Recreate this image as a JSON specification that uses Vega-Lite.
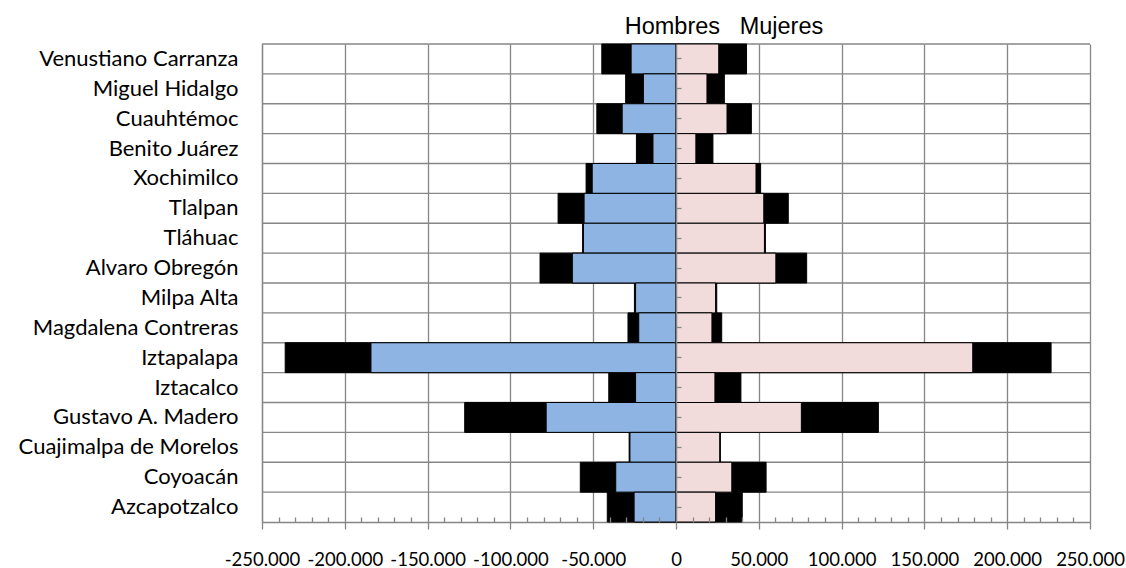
{
  "$schema": "https://vega.github.io/schema/vega-lite/v6.json",
  "width": 828,
  "height": 478,
  "autosize": {"type": "none"},
  "padding": {"left": 262, "top": 44, "right": 36, "bottom": 46},
  "background": "white",
  "title": {
    "text": "Hombres\u00a0\u00a0\u00a0Mujeres",
    "font": "Liberation Sans",
    "fontSize": 23.5,
    "fontWeight": "normal",
    "color": "#000000",
    "anchor": "middle",
    "dx": 48,
    "baseline": "alphabetic",
    "offset": -14
  },
  "config": {
    "view": {"stroke": null},
    "axis": {"title": null}
  },
  "data": {
    "values": [
      {"delegacion": "Venustiano Carranza", "sexo": "Hombres", "serie": "exterior", "poblacion": -44800},
      {"delegacion": "Venustiano Carranza", "sexo": "Hombres", "serie": "interior", "poblacion": -27100},
      {"delegacion": "Venustiano Carranza", "sexo": "Mujeres", "serie": "interior", "poblacion": 25800},
      {"delegacion": "Venustiano Carranza", "sexo": "Mujeres", "serie": "exterior", "poblacion": 42600},
      {"delegacion": "Miguel Hidalgo", "sexo": "Hombres", "serie": "exterior", "poblacion": -30400},
      {"delegacion": "Miguel Hidalgo", "sexo": "Hombres", "serie": "interior", "poblacion": -19700},
      {"delegacion": "Miguel Hidalgo", "sexo": "Mujeres", "serie": "interior", "poblacion": 18700},
      {"delegacion": "Miguel Hidalgo", "sexo": "Mujeres", "serie": "exterior", "poblacion": 29200},
      {"delegacion": "Cuauhtémoc", "sexo": "Hombres", "serie": "exterior", "poblacion": -47800},
      {"delegacion": "Cuauhtémoc", "sexo": "Hombres", "serie": "interior", "poblacion": -32500},
      {"delegacion": "Cuauhtémoc", "sexo": "Mujeres", "serie": "interior", "poblacion": 30800},
      {"delegacion": "Cuauhtémoc", "sexo": "Mujeres", "serie": "exterior", "poblacion": 45500},
      {"delegacion": "Benito Juárez", "sexo": "Hombres", "serie": "exterior", "poblacion": -23900},
      {"delegacion": "Benito Juárez", "sexo": "Hombres", "serie": "interior", "poblacion": -13900},
      {"delegacion": "Benito Juárez", "sexo": "Mujeres", "serie": "interior", "poblacion": 12000},
      {"delegacion": "Benito Juárez", "sexo": "Mujeres", "serie": "exterior", "poblacion": 22300},
      {"delegacion": "Xochimilco", "sexo": "Hombres", "serie": "exterior", "poblacion": -54300},
      {"delegacion": "Xochimilco", "sexo": "Hombres", "serie": "interior", "poblacion": -50600},
      {"delegacion": "Xochimilco", "sexo": "Mujeres", "serie": "interior", "poblacion": 48300},
      {"delegacion": "Xochimilco", "sexo": "Mujeres", "serie": "exterior", "poblacion": 51100},
      {"delegacion": "Tlalpan", "sexo": "Hombres", "serie": "exterior", "poblacion": -71200},
      {"delegacion": "Tlalpan", "sexo": "Hombres", "serie": "interior", "poblacion": -55500},
      {"delegacion": "Tlalpan", "sexo": "Mujeres", "serie": "interior", "poblacion": 53000},
      {"delegacion": "Tlalpan", "sexo": "Mujeres", "serie": "exterior", "poblacion": 67800},
      {"delegacion": "Tláhuac", "sexo": "Hombres", "serie": "exterior", "poblacion": -56400},
      {"delegacion": "Tláhuac", "sexo": "Hombres", "serie": "interior", "poblacion": -55900},
      {"delegacion": "Tláhuac", "sexo": "Mujeres", "serie": "interior", "poblacion": 53400},
      {"delegacion": "Tláhuac", "sexo": "Mujeres", "serie": "exterior", "poblacion": 54000},
      {"delegacion": "Alvaro Obregón", "sexo": "Hombres", "serie": "exterior", "poblacion": -82100},
      {"delegacion": "Alvaro Obregón", "sexo": "Hombres", "serie": "interior", "poblacion": -62600},
      {"delegacion": "Alvaro Obregón", "sexo": "Mujeres", "serie": "interior", "poblacion": 60300},
      {"delegacion": "Alvaro Obregón", "sexo": "Mujeres", "serie": "exterior", "poblacion": 78900},
      {"delegacion": "Milpa Alta", "sexo": "Hombres", "serie": "exterior", "poblacion": -25100},
      {"delegacion": "Milpa Alta", "sexo": "Hombres", "serie": "interior", "poblacion": -24400},
      {"delegacion": "Milpa Alta", "sexo": "Mujeres", "serie": "interior", "poblacion": 23900},
      {"delegacion": "Milpa Alta", "sexo": "Mujeres", "serie": "exterior", "poblacion": 24600},
      {"delegacion": "Magdalena Contreras", "sexo": "Hombres", "serie": "exterior", "poblacion": -29000},
      {"delegacion": "Magdalena Contreras", "sexo": "Hombres", "serie": "interior", "poblacion": -22500},
      {"delegacion": "Magdalena Contreras", "sexo": "Mujeres", "serie": "interior", "poblacion": 21700},
      {"delegacion": "Magdalena Contreras", "sexo": "Mujeres", "serie": "exterior", "poblacion": 27600},
      {"delegacion": "Iztapalapa", "sexo": "Hombres", "serie": "exterior", "poblacion": -236000},
      {"delegacion": "Iztapalapa", "sexo": "Hombres", "serie": "interior", "poblacion": -184200},
      {"delegacion": "Iztapalapa", "sexo": "Mujeres", "serie": "interior", "poblacion": 179200},
      {"delegacion": "Iztapalapa", "sexo": "Mujeres", "serie": "exterior", "poblacion": 226500},
      {"delegacion": "Iztacalco", "sexo": "Hombres", "serie": "exterior", "poblacion": -40600},
      {"delegacion": "Iztacalco", "sexo": "Hombres", "serie": "interior", "poblacion": -24400},
      {"delegacion": "Iztacalco", "sexo": "Mujeres", "serie": "interior", "poblacion": 23500},
      {"delegacion": "Iztacalco", "sexo": "Mujeres", "serie": "exterior", "poblacion": 39200},
      {"delegacion": "Gustavo A. Madero", "sexo": "Hombres", "serie": "exterior", "poblacion": -127600},
      {"delegacion": "Gustavo A. Madero", "sexo": "Hombres", "serie": "interior", "poblacion": -78400},
      {"delegacion": "Gustavo A. Madero", "sexo": "Mujeres", "serie": "interior", "poblacion": 75700},
      {"delegacion": "Gustavo A. Madero", "sexo": "Mujeres", "serie": "exterior", "poblacion": 122200},
      {"delegacion": "Cuajimalpa de Morelos", "sexo": "Hombres", "serie": "exterior", "poblacion": -28300},
      {"delegacion": "Cuajimalpa de Morelos", "sexo": "Hombres", "serie": "interior", "poblacion": -27800},
      {"delegacion": "Cuajimalpa de Morelos", "sexo": "Mujeres", "serie": "interior", "poblacion": 26400},
      {"delegacion": "Cuajimalpa de Morelos", "sexo": "Mujeres", "serie": "exterior", "poblacion": 26800},
      {"delegacion": "Coyoacán", "sexo": "Hombres", "serie": "exterior", "poblacion": -57800},
      {"delegacion": "Coyoacán", "sexo": "Hombres", "serie": "interior", "poblacion": -36400},
      {"delegacion": "Coyoacán", "sexo": "Mujeres", "serie": "interior", "poblacion": 33700},
      {"delegacion": "Coyoacán", "sexo": "Mujeres", "serie": "exterior", "poblacion": 54400},
      {"delegacion": "Azcapotzalco", "sexo": "Hombres", "serie": "exterior", "poblacion": -41500},
      {"delegacion": "Azcapotzalco", "sexo": "Hombres", "serie": "interior", "poblacion": -25300},
      {"delegacion": "Azcapotzalco", "sexo": "Mujeres", "serie": "interior", "poblacion": 23900},
      {"delegacion": "Azcapotzalco", "sexo": "Mujeres", "serie": "exterior", "poblacion": 40000}
    ]
  },
  "layer": [
    {
      "transform": [{"filter": "datum.serie === 'interior' && datum.sexo === 'Hombres'"}],
      "mark": {"type": "rule", "color": "#868686", "strokeWidth": 1.3},
      "encoding": {
        "y": {
          "field": "delegacion", "type": "nominal", "bandPosition": 0,
          "sort": ["Venustiano Carranza", "Miguel Hidalgo", "Cuauhtémoc", "Benito Juárez", "Xochimilco", "Tlalpan", "Tláhuac", "Alvaro Obregón", "Milpa Alta", "Magdalena Contreras", "Iztapalapa", "Iztacalco", "Gustavo A. Madero", "Cuajimalpa de Morelos", "Coyoacán", "Azcapotzalco"],
          "scale": {"paddingInner": 0, "paddingOuter": 0},
          "axis": null
        }
      }
    },
    {
      "transform": [{"filter": "datum.serie === 'exterior'"}],
      "mark": {"type": "bar", "fill": "#000000", "stroke": "#000000", "strokeWidth": 1},
      "encoding": {
        "y": {
          "field": "delegacion", "type": "nominal",
          "sort": ["Venustiano Carranza", "Miguel Hidalgo", "Cuauhtémoc", "Benito Juárez", "Xochimilco", "Tlalpan", "Tláhuac", "Alvaro Obregón", "Milpa Alta", "Magdalena Contreras", "Iztapalapa", "Iztacalco", "Gustavo A. Madero", "Cuajimalpa de Morelos", "Coyoacán", "Azcapotzalco"],
          "scale": {"paddingInner": 0, "paddingOuter": 0},
          "axis": {"orient": "right", "offset": -414, "labels": false, "grid": false, "ticks": true, "tickSize": 5, "tickColor": "#868686", "tickWidth": 1.3, "domain": true, "domainColor": "#868686", "domainWidth": 1.5, "zindex": 1}
        },
        "x": {
          "field": "poblacion", "type": "quantitative", "stack": null,
          "scale": {"domain": [-250000, 250000], "nice": false, "zero": false},
          "axis": {"orient": "top", "offset": -478, "values": [-240000,-230000,-220000,-210000,-190000,-180000,-170000,-160000,-140000,-130000,-120000,-110000,-90000,-80000,-70000,-60000,-40000,-30000,-20000,-10000,10000,20000,30000,40000,60000,70000,80000,90000,110000,120000,130000,140000,160000,170000,180000,190000,210000,220000,230000,240000], "labels": false, "grid": false, "domain": false, "ticks": true, "tickSize": 5, "tickColor": "#868686", "tickWidth": 1.3, "zindex": 1}
        }
      }
    },
    {
      "transform": [{"filter": "datum.serie === 'interior'"}],
      "mark": {"type": "bar", "stroke": "#000000", "strokeWidth": 1},
      "encoding": {
        "y": {
          "field": "delegacion", "type": "nominal",
          "sort": ["Venustiano Carranza", "Miguel Hidalgo", "Cuauhtémoc", "Benito Juárez", "Xochimilco", "Tlalpan", "Tláhuac", "Alvaro Obregón", "Milpa Alta", "Magdalena Contreras", "Iztapalapa", "Iztacalco", "Gustavo A. Madero", "Cuajimalpa de Morelos", "Coyoacán", "Azcapotzalco"],
          "scale": {"paddingInner": 0, "paddingOuter": 0},
          "axis": {"orient": "left", "ticks": false, "grid": false, "domain": true, "domainColor": "#868686", "domainWidth": 1.3, "labelFont": "Lato", "labelFontSize": 22, "labelColor": "#000000", "labelPadding": 24, "labelBaseline": "middle", "labelLimit": 320}
        },
        "x": {
          "field": "poblacion", "type": "quantitative", "stack": null,
          "scale": {"domain": [-250000, 250000], "nice": false, "zero": false},
          "axis": {"orient": "bottom", "values": [-250000,-200000,-150000,-100000,-50000,0,50000,100000,150000,200000,250000], "labelExpr": "(datum.value < 0 ? '-' : '') + replace(format(abs(datum.value), ','), ',', '.')", "grid": true, "gridColor": "#868686", "gridWidth": 1.3, "domain": true, "domainColor": "#868686", "domainWidth": 1.3, "ticks": true, "tickSize": 7, "tickColor": "#868686", "tickWidth": 1.3, "labelFont": "Lato", "labelFontSize": 18.5, "labelColor": "#000000", "labelBaseline": "alphabetic", "labelPadding": 36, "labelOverlap": false, "labelFlush": false}
        },
        "color": {
          "field": "sexo", "type": "nominal",
          "scale": {"domain": ["Hombres", "Mujeres"], "range": ["#8DB4E2", "#F2DCDB"]},
          "legend": null
        }
      }
    }
  ]
}
